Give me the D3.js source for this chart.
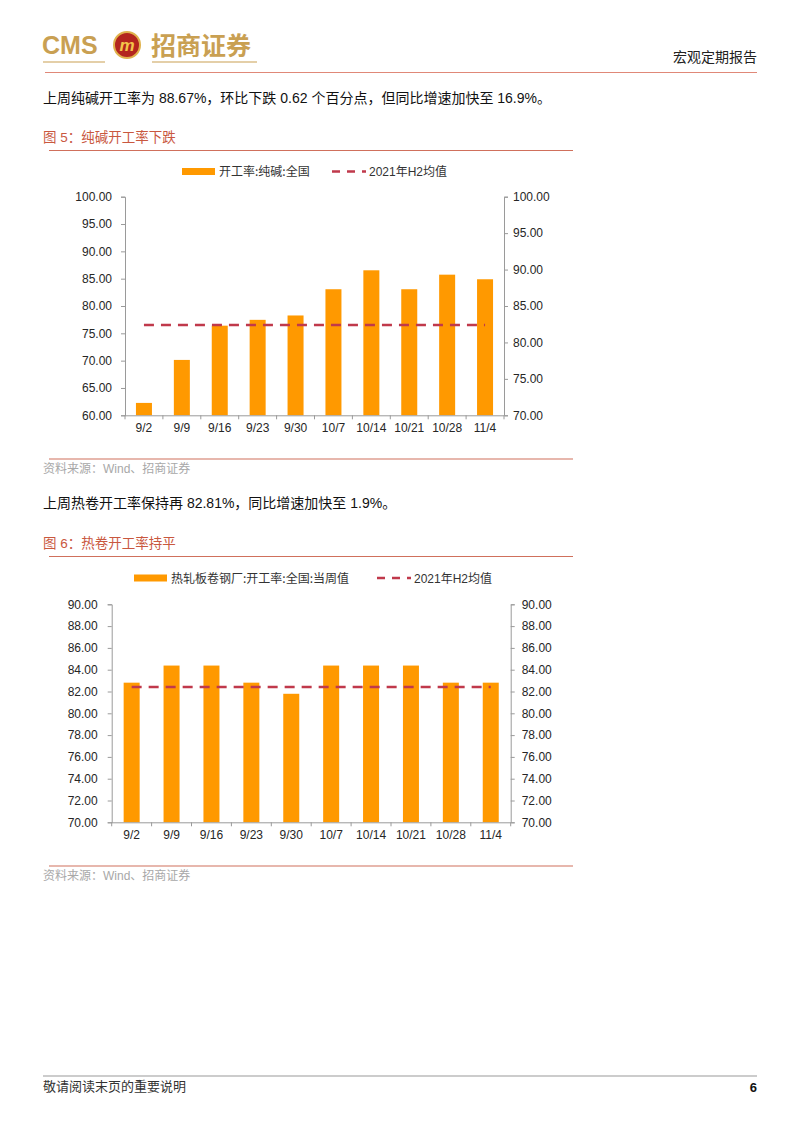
<!DOCTYPE html>
<html>
<head>
<meta charset="utf-8">
<script src="https://cdn.jsdelivr.net/npm/d3@7"></script>
<style>
  body { margin: 0; background: #fff; }
  svg { display: block; }
</style>
</head>
<body>
<div id="page"></div>
<script>
var width = 802;
var height = 1133;

// chart data
var weeks = ['9/2', '9/9', '9/16', '9/23', '9/30', '10/7', '10/14', '10/21', '10/28', '11/4'];
var sodaRate = [71.7, 77.6, 82.3, 83.1, 83.7, 87.3, 89.9, 87.3, 89.3, 88.67];
var sodaAvg = 82.4;
var coilRate = [82.81, 84.38, 84.38, 82.81, 81.79, 84.38, 84.38, 84.38, 82.81, 82.81];
var coilAvg = 82.41;
var sodaLeftTicks = [60, 65, 70, 75, 80, 85, 90, 95, 100];
var sodaRightTicks = [70, 75, 80, 85, 90, 95, 100];
var coilTicks = [70, 72, 74, 76, 78, 80, 82, 84, 86, 88, 90];

var latin = "'Liberation Sans', Arial, 'Noto Sans CJK SC', sans-serif";
var cjk = "'Noto Sans CJK SC', 'Liberation Sans', sans-serif";
var barColor = '#ff9900';
var avgColor = '#c0394b';
var ruleColor = '#d0705c';
var axisColor = '#9a9a9a';

var svg = d3.select('#page').append('svg')
    .attr('width', width)
    .attr('height', height);

svg.append('rect').attr('width', width).attr('height', height).attr('fill', '#fff');

// header
var gold = '#c9a052';
svg.append('text').attr('x', 42).attr('y', 54)
    .style('font-family', latin).style('font-weight', 'bold').style('font-size', '25px')
    .attr('fill', gold).text('CMS');
svg.append('line').attr('x1', 43).attr('x2', 105).attr('y1', 62).attr('y2', 62)
    .attr('stroke', gold).attr('stroke-width', 1.2);
svg.append('circle').attr('cx', 127).attr('cy', 45).attr('r', 13)
    .attr('fill', '#b3261e').attr('stroke', '#e0b24c').attr('stroke-width', 2);
svg.append('text').attr('x', 127).attr('y', 51).attr('text-anchor', 'middle')
    .style('font-family', latin).style('font-weight', 'bold').style('font-style', 'italic')
    .style('font-size', '17px').attr('fill', '#f3c64a').text('m');
svg.append('text').attr('x', 151).attr('y', 55)
    .style('font-family', cjk).style('font-weight', 'bold').style('font-size', '25px')
    .attr('fill', gold).text('招商证券');
svg.append('line').attr('x1', 152).attr('x2', 257).attr('y1', 62).attr('y2', 62)
    .attr('stroke', gold).attr('stroke-width', 1.2);
svg.append('line').attr('x1', 45).attr('x2', 757).attr('y1', 72.5).attr('y2', 72.5)
    .attr('stroke', '#e08878').attr('stroke-width', 1.2);
svg.append('text').attr('x', 757).attr('y', 62).attr('text-anchor', 'end')
    .style('font-family', cjk).style('font-size', '14px').attr('fill', '#222')
    .text('宏观定期报告');

function para(y, txt) {
  svg.append('text').attr('x', 43).attr('y', y)
      .style('font-family', latin).style('font-size', '14px').attr('fill', '#111')
      .text(txt);
}
function caption(y, txt) {
  svg.append('text').attr('x', 43).attr('y', y)
      .style('font-family', latin).style('font-size', '13.5px').attr('fill', '#c9583f')
      .text(txt);
  svg.append('line').attr('x1', 49).attr('x2', 573).attr('y1', y + 8.5).attr('y2', y + 8.5)
      .attr('stroke', ruleColor).attr('stroke-width', 1.2);
}
function source(y) {
  svg.append('line').attr('x1', 49).attr('x2', 573).attr('y1', y).attr('y2', y)
      .attr('stroke', ruleColor).attr('stroke-width', 1.2);
  svg.append('text').attr('x', 43).attr('y', y + 13.5)
      .style('font-family', latin).style('font-size', '12px').attr('fill', '#a8a8a8')
      .text('资料来源：Wind、招商证券');
}

para(103, '上周纯碱开工率为 88.67%，环比下跌 0.62 个百分点，但同比增速加快至 16.9%。');
caption(142, '图 5：纯碱开工率下跌');
source(459);
para(508, '上周热卷开工率保持再 82.81%，同比增速加快至 1.9%。');
caption(548, '图 6：热卷开工率持平');
source(866);

function drawChart(o) {
  var g = svg.append('g');
  var x = d3.scaleBand().domain(weeks).range([o.left, o.right]);
  var yL = d3.scaleLinear().domain(d3.extent(o.leftTicks)).range([o.bottom, o.top]);
  var yR = d3.scaleLinear().domain(d3.extent(o.rightTicks)).range([o.bottom, o.top]);

  // bars
  g.selectAll('rect.bar').data(o.values).enter().append('rect')
      .attr('class', 'bar')
      .attr('x', function(d, i) { return x(weeks[i]) + x.bandwidth() / 2 - 8; })
      .attr('width', 16)
      .attr('y', function(d) { return yR(d); })
      .attr('height', function(d) { return o.bottom - yR(d); })
      .attr('fill', barColor);

  // average line
  g.append('line')
      .attr('x1', x(weeks[0]) + x.bandwidth() / 2)
      .attr('x2', x(weeks[weeks.length - 1]) + x.bandwidth() / 2)
      .attr('y1', yR(o.avg)).attr('y2', yR(o.avg))
      .attr('stroke', avgColor).attr('stroke-width', 2.5)
      .attr('stroke-dasharray', '10,7');

  var axL = g.append('g').attr('transform', 'translate(' + o.left + ',0)')
      .call(d3.axisLeft(yL).tickValues(o.leftTicks).tickFormat(d3.format('.2f'))
          .tickSize(4).tickPadding(o.padL));
  var axR = g.append('g').attr('transform', 'translate(' + o.right + ',0)')
      .call(d3.axisRight(yR).tickValues(o.rightTicks).tickFormat(d3.format('.2f'))
          .tickSize(4).tickPadding(o.padR));
  var axB = g.append('g').attr('transform', 'translate(0,' + o.bottom + ')')
      .call(d3.axisBottom(x).tickSize(0).tickPadding(8));
  // separators between categories on x axis
  axB.selectAll('line.sep').data(d3.range(weeks.length + 1)).enter().append('line')
      .attr('class', 'sep')
      .attr('x1', function(i) { return o.left + i * x.step(); })
      .attr('x2', function(i) { return o.left + i * x.step(); })
      .attr('y1', 0).attr('y2', 4)
      .attr('stroke', axisColor);

  [axL, axR, axB].forEach(function(a) {
    a.select('.domain').attr('stroke', axisColor);
    a.selectAll('.tick line').attr('stroke', axisColor);
    a.selectAll('text').style('font-family', latin).style('font-size', '12px').attr('fill', '#262626');
  });
  axB.select('.domain').attr('d', 'M' + o.left + ',0.5H' + o.right);

  // legend
  var lg = g.append('g');
  lg.append('rect').attr('x', o.legX).attr('y', o.legY - 3.5).attr('width', 33).attr('height', 7)
      .attr('fill', barColor);
  lg.append('text').attr('x', o.legX + 37).attr('y', o.legY + 4.5)
      .style('font-family', cjk).style('font-size', '12px').attr('fill', '#333')
      .text(o.legend);
  lg.append('line').attr('x1', o.legX2).attr('x2', o.legX2 + 34)
      .attr('y1', o.legY).attr('y2', o.legY)
      .attr('stroke', avgColor).attr('stroke-width', 2.5).attr('stroke-dasharray', '8,7');
  lg.append('text').attr('x', o.legX2 + 37).attr('y', o.legY + 4.5)
      .style('font-family', latin).style('font-size', '12px').attr('fill', '#333')
      .text('2021年H2均值');
}

drawChart({
  left: 125, right: 504, top: 196.7, bottom: 415.3,
  leftTicks: sodaLeftTicks, rightTicks: sodaRightTicks,
  values: sodaRate, avg: sodaAvg, padL: 9, padR: 5,
  legX: 182, legX2: 332, legY: 171.5, legend: '开工率:纯碱:全国'
});

drawChart({
  left: 111.7, right: 510.7, top: 604.3, bottom: 822.3,
  leftTicks: coilTicks, rightTicks: coilTicks,
  values: coilRate, avg: coilAvg, padL: 10, padR: 7,
  legX: 134, legX2: 377, legY: 578, legend: '热轧板卷钢厂:开工率:全国:当周值'
});

// footer
svg.append('line').attr('x1', 43).attr('x2', 757).attr('y1', 1076).attr('y2', 1076)
    .attr('stroke', '#999').attr('stroke-width', 1);
svg.append('text').attr('x', 43).attr('y', 1091)
    .style('font-family', cjk).style('font-size', '13px').attr('fill', '#333')
    .text('敬请阅读末页的重要说明');
svg.append('text').attr('x', 757).attr('y', 1092).attr('text-anchor', 'end')
    .style('font-family', latin).style('font-weight', 'bold').style('font-size', '13px').attr('fill', '#111')
    .text('6');
</script>
</body>
</html>
